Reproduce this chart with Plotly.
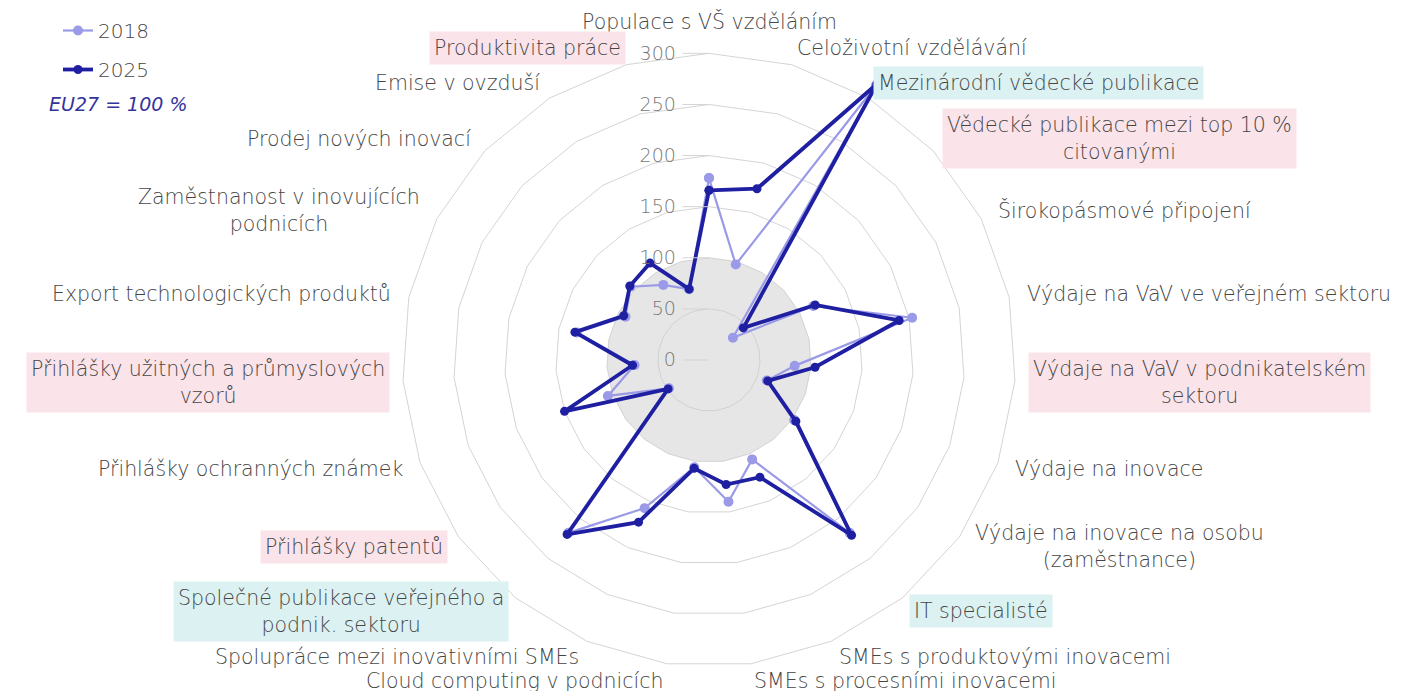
import math
import plotly.graph_objects as go

# ---------------- data ----------------
categories = [
    "Populace s VŠ vzděláním",
    "Celoživotní vzdělávání",
    "Mezinárodní vědecké publikace",
    "Vědecké publikace mezi top 10 % citovanými",
    "Širokopásmové připojení",
    "Výdaje na VaV ve veřejném sektoru",
    "Výdaje na VaV v podnikatelském sektoru",
    "Výdaje na inovace",
    "Výdaje na inovace na osobu (zaměstnance)",
    "IT specialisté",
    "SMEs s produktovými inovacemi",
    "SMEs s procesními inovacemi",
    "Cloud computing v podnicích",
    "Spolupráce mezi inovativními SMEs",
    "Společné publikace veřejného a podnik. sektoru",
    "Přihlášky patentů",
    "Přihlášky ochranných známek",
    "Přihlášky užitných a průmyslových vzorů",
    "Export technologických produktů",
    "Zaměstnanost v inovujících podnicích",
    "Prodej nových inovací",
    "Emise v ovzduší",
    "Produktivita práce",
]

category_labels = [
    "Populace s VŠ vzděláním",
    "Celoživotní vzdělávání",
    "Mezinárodní vědecké publikace",
    "Vědecké publikace mezi top 10 %<br>citovanými",
    "Širokopásmové připojení",
    "Výdaje na VaV ve veřejném sektoru",
    "Výdaje na VaV v podnikatelském<br>sektoru",
    "Výdaje na inovace",
    "Výdaje na inovace na osobu<br>(zaměstnance)",
    "IT specialisté",
    "SMEs s produktovými inovacemi",
    "SMEs s procesními inovacemi",
    "Cloud computing v podnicích",
    "Spolupráce mezi inovativními SMEs",
    "Společné publikace veřejného a<br>podnik. sektoru",
    "Přihlášky patentů",
    "Přihlášky ochranných známek",
    "Přihlášky užitných a průmyslových<br>vzorů",
    "Export technologických produktů",
    "Zaměstnanost v inovujících<br>podnicích",
    "Prodej nových inovací",
    "Emise v ovzduší",
    "Produktivita práce",
]

label_highlight = [
    "", "", "teal", "pink", "", "", "pink", "", "", "teal", "", "",
    "", "", "teal", "pink", "", "pink", "", "", "", "", "pink",
]

values_2018 = [178, 97, 314, 32, 115, 203, 84, 60, 102, 218, 106, 140,
               106, 158, 218, 48, 105, 73, 132, 92, 105, 86, 72]
values_2025 = [166, 174, 316, 46, 117, 190, 104, 61, 104, 221, 125, 123,
               107, 173, 220, 49, 150, 75, 134, 94, 106, 111, 72]
eu27_level = [100, 100, 100, 100, 100, 100, 100, 100, 100, 100, 100, 100,
              100, 100, 100, 100, 100, 100, 100, 100, 100, 100, 100]

radial_ticks = [0, 50, 100, 150, 200, 250, 300]
series_names = ["2018", "2025"]

# ---------------- style ----------------
W, H = 1405, 691
OFF = 8                      # page body margin offset
CX, CY, R = 709 - OFF, 360 - OFF, 323
MT = CY - R
MB = H - CY - R
FONT = "DejaVu Sans"
LABEL_SIZE = 20.5
DARK = "#1f1fa2"
LIGHT = "#9a9ae8"
GRID = "#d4d4d4"
TEXT = "#454545"
HL = {"pink": "#fbe3ea", "teal": "#dcf1f1", "": "rgba(0,0,0,0)"}


def closed(seq):
    return list(seq) + [seq[0]]


def paper(px, py):
    return px / W, (H - MB - py) / (H - MT - MB)


theta = closed(categories)

fig = go.Figure()
fig.add_trace(go.Scatterpolar(
    r=closed(eu27_level), theta=theta, mode="lines", fill="toself",
    fillcolor="rgba(205,205,205,0.5)", line=dict(width=0, color="rgba(0,0,0,0)"),
    showlegend=False, hoverinfo="skip"))
fig.add_trace(go.Scatterpolar(
    r=closed(values_2018), theta=theta, name=series_names[0], mode="lines+markers",
    line=dict(color=LIGHT, width=2.2), marker=dict(color=LIGHT, size=10),
    legendgroup="a"))
fig.add_trace(go.Scatterpolar(
    r=closed(values_2025), theta=theta, name=series_names[1], mode="lines+markers",
    line=dict(color=DARK, width=3.8), marker=dict(color=DARK, size=9),
    legendgroup="b"))

# category labels placed around the outer edge of the polar area
annotations = []
n = len(categories)
pad = 4
for i, (txt, hl) in enumerate(zip(category_labels, label_highlight)):
    ang = math.radians(i * 360.0 / n)
    s, c = math.sin(ang), math.cos(ang)
    rl = R + 1
    if abs(s) < 0.1 and c > 0:
        rl = R + 15
    px = CX + rl * s
    py = CY - rl * c
    if abs(s) < 0.1:
        xa = "center"
    elif s > 0:
        xa = "left"
        px -= pad
    else:
        xa = "right"
        px += pad
    x, y = paper(px, py)
    annotations.append(dict(
        x=x, y=y, xref="paper", yref="paper",
        text=txt, showarrow=False, xanchor=xa, yanchor="middle", align="center",
        bgcolor=HL[hl], borderpad=pad,
        font=dict(family=FONT, size=LABEL_SIZE, color=TEXT, weight=300)))

ex, ey = paper(47 - OFF, 104 - OFF)
annotations.append(dict(
    x=ex, y=ey, xref="paper", yref="paper",
    xanchor="left", yanchor="middle", showarrow=False, text="<i>EU27 = 100 %</i>",
    font=dict(family=FONT, size=19, color="#34349a", weight=300)))

fig.update_layout(
    width=W, height=H,
    paper_bgcolor="white",
    margin=dict(l=0, r=0, t=MT, b=MB, autoexpand=False),
    font=dict(family=FONT, color=TEXT),
    polar=dict(
        domain=dict(x=[(CX - R) / W, (CX + R) / W], y=[0, 1]),
        bgcolor="white",
        gridshape="linear",
        radialaxis=dict(
            range=[0, 316], tickvals=radial_ticks, angle=90, side="counterclockwise",
            ticks="outside", ticklen=26, tickcolor=GRID, gridcolor=GRID, gridwidth=1,
            showline=False, tickfont=dict(family=FONT, size=19, color="#777777", weight=300),
            tickangle=90),
        angularaxis=dict(
            type="category", rotation=90, direction="clockwise",
            showgrid=False, showline=False, showticklabels=False, ticks=""),
    ),
    showlegend=True,
    legend=dict(
        x=50 / W, y=1 - 3 / H, xref="container", yref="container",
        xanchor="left", yanchor="top", tracegroupgap=10,
        font=dict(family=FONT, size=20, color="#444444", weight=300),
        bgcolor="rgba(0,0,0,0)"),
    annotations=annotations,
)

fig.write_html("out.html")
